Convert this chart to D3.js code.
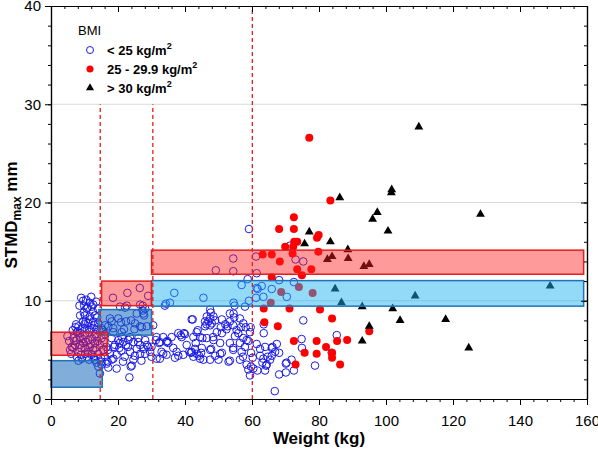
<!DOCTYPE html>
<html><head><meta charset="utf-8">
<script src="https://cdn.jsdelivr.net/npm/d3@7/dist/d3.min.js"></script>
<style>
html,body{margin:0;padding:0;background:#fff;}
svg{display:block;font-family:"Liberation Sans",Arial,sans-serif;}
</style></head>
<body><svg id="chart" width="598" height="454"></svg>
<script>
// ---------- DATA ----------
const xTicks = [0, 20, 40, 60, 80, 100, 120, 140, 160];
const yTicks = [0, 10, 20, 30, 40];
const legendLabels = ["< 25 kg/m", "25 - 29.9 kg/m", "> 30 kg/m"];
const legendTitle = "BMI";
const xLabel = "Weight (kg)";

// BMI < 25 kg/m2 : [weight, STMDmax]
const bmiUnder25 = [
[4.9,6.4],[6.7,6.2],[7.7,6.0],[7.2,5.5],[6.7,5.2],[8.2,4.8],[7.7,4.3],[9.2,4.1],[10.7,4.3],[12.1,4.5],[13.1,4.0],[15.1,3.8],[16.6,3.6],[14.1,3.3],[17.1,3.2],[15.6,5.0],[14.6,5.5],[13.1,5.7],[11.1,6.0],[9.6,5.7],[8.7,6.3],[10.1,6.5],[13.6,6.3],[15.1,6.2],[7.7,6.8],[8.7,6.7],[6.2,5.3],[5.7,5.0],[8.2,3.9],[14.1,4.6],[10.1,5.2],[11.6,5.3],[12.6,5.0],[8.7,5.5],[11.1,4.8],[16.1,4.3],[17.6,4.6],[18.1,4.0],[14.6,2.6],[15.1,3.5],
[9.6,10.0],[11.6,9.8],[12.6,9.6],[10.7,9.2],[10.1,8.5],[11.6,8.4],[13.1,8.5],[9.6,7.9],[11.1,7.7],[12.6,7.9],[14.1,7.7],[8.2,7.4],[9.2,7.1],[10.7,7.1],[12.1,7.2],[13.6,7.1],[14.6,6.8],
[9.0,10.3],[10.5,10.1],[12.0,10.4],[13.5,9.9],[8.5,9.5],[11.0,9.3],[14.0,9.2],[12.5,8.9],[9.8,8.8],[8.7,8.5],[11.5,8.1],[13.8,8.3],[7.5,7.6],[10.4,7.9],[12.9,7.5],[6.5,7.0],[8.0,6.9],[11.4,6.8],[9.5,6.1],[12.4,6.1],[10.5,5.8],[13.9,5.9],[7.0,5.9],[9.0,5.2],[11.9,5.6],[13.3,5.2],[15.9,5.8],[16.5,5.3],[10.2,4.6],[12.8,4.3],[8.9,4.5],[14.9,4.2],[11.4,4.0],[6.0,4.6],[13.6,3.7],[16.1,6.6],[7.3,7.3],[5.4,5.9],[9.9,9.5],[12.2,9.4],[10.0,7.6],[11.8,7.0],[13.2,6.6],[15.5,7.0],
[17.6,8.2],[20.1,8.2],[22.4,7.9],[21.8,7.1],[25.1,7.7],[26.6,7.4],[28.6,7.4],[27.6,8.7],[28.1,9.2],[26.6,9.6],[22.6,9.5],[20.6,9.4],[15.1,7.2],[16.1,7.5],[17.1,7.4],[18.6,7.2],[22.1,9.3],[27.4,9.5],[27.4,9.0],[27.8,8.5],[25.6,8.7],[23.9,8.0],[20.9,7.8],[21.1,6.8],[24.9,7.1],[27.1,7.3],[18.1,7.9],[18.6,6.8],
[21.1,6.3],[23.6,6.3],[26.1,6.2],[28.1,6.0],[28.6,5.5],[26.6,5.5],[18.1,6.2],[24.6,5.8],[23.1,6.0],[21.6,5.8],[20.1,6.0],[19.1,5.5],[20.4,5.2],[19.6,4.5],[18.6,4.1],[19.6,3.1],[23.8,3.3],[24.6,4.0],[23.4,2.2],[22.4,5.5],[23.6,4.8],[25.6,5.1],[27.6,5.1],[26.6,4.6],[28.1,4.6],[29.6,4.8],[24.1,3.4],[21.0,4.9],[22.0,4.3],[25.0,4.4],[27.0,3.9],[20.5,5.7],[23.0,5.3],[26.0,5.8],[29.0,5.3],[17.0,5.0],[18.8,5.3],[21.5,3.8],[16.9,3.8],
[22.8,10.8],[26.5,11.3],[29.0,10.5],[18.5,10.3],
[30.5,7.5],[31.5,6.3],[32.5,5.8],[33.5,6.3],[34.5,5.8],[33.5,4.6],[31.5,4.1],[34.5,4.5],[30.0,5.3],[30.0,4.3],[32.5,4.1],[31.3,6.0],[32.3,5.7],[34.7,5.9],[35.0,5.7],[38.0,6.7],[38.7,6.5],[37.5,4.8],[38.0,4.4],[33.0,4.8],[35.5,9.8],[34.0,9.5],[36.8,10.8],[34.3,9.7],
[39.0,6.3],[39.7,6.7],[41.3,4.8],[42.3,8.1],[40.5,5.5],[39.5,4.5],[36.5,5.2],[36.0,6.3],[37.0,4.2],
[59.1,17.3],[54.4,14.3],[61.2,14.5],[49.2,13.1],[54.4,13.0],[61.4,12.8],[58.7,12.2],[56.9,11.6],[61.7,11.2],[61.2,10.3],[62.9,11.5],[59.1,10.0],[45.5,10.3],[54.5,9.8],[54.8,9.5],[57.9,9.4],[47.5,9.1],[47.7,8.8],[54.5,8.7],[54.7,8.3],[42.0,8.1],[47.5,8.2],[46.0,7.9],[49.0,8.0],[51.0,8.1],[46.4,7.6],[48.0,7.7],[52.0,7.6],[52.7,7.4],[63.5,7.6],[63.5,6.7],[50.7,7.3],[52.4,7.1],[56.7,7.3],[58.1,7.3],[59.6,7.3],[40.0,6.6],[43.8,7.0],[45.2,6.2],[48.4,6.3],[54.9,6.4],[57.4,6.2],[58.9,5.9],[43.2,5.7],[45.0,5.2],[47.8,5.1],[61.4,5.6],[63.9,5.3],[66.1,5.3],[41.8,4.7],[43.0,5.1],[44.2,4.4],[44.8,4.7],[47.5,4.0],[49.0,4.4],[51.0,4.7],[54.4,5.0],[56.9,4.8],[57.3,4.3],[53.4,3.9],[59.7,4.7],[62.4,4.4],[63.1,3.7],[64.2,3.4],[64.7,4.3],[59.7,3.3],[60.4,3.1],[61.6,2.9],[59.4,2.4],[63.9,2.9],[66.8,0.8],
[43.5,6.8],[42.5,6.3],[44.5,6.3],[42.0,4.8],[43.5,4.6],[42.5,4.3],[44.5,4.1],[45.5,4.0],[46.5,8.4],[48.5,8.4],[47.0,7.9],[47.5,7.5],[46.0,7.4],[46.5,6.2],[48.5,6.0],[50.5,5.7],[49.5,6.8],[51.0,6.7],[47.5,5.0],[50.5,4.6],[50.0,4.0],[53.0,3.8],[53.4,7.9],[54.4,7.5],[55.4,7.0],[55.9,6.7],[53.4,8.7],[56.4,8.2],[53.4,5.7],[54.4,5.2],[56.4,5.7],[57.9,5.3],[58.4,6.0],[59.4,6.8],[57.4,7.7],[56.4,4.0],[58.4,3.5],[58.9,3.0],[64.4,3.5],[65.4,4.0],[63.4,4.1],[63.4,10.4],[61.4,11.3],[62.4,5.1],[60.2,4.2],
[71.3,15.6],[73.0,14.2],[75.3,14.0],[68.1,12.1],[72.5,11.9],[65.9,11.2],[70.4,10.4],[75.3,8.0],[85.3,6.5],[74.8,6.1],[74.9,5.2],[83.8,4.7],[67.4,5.6],[68.1,4.7],[65.9,5.2],[65.9,4.4],[70.1,3.6],[71.8,4.0],[72.5,2.9],[70.1,2.7],[68.1,2.5],[78.8,3.4],[66.9,4.8],[70.3,3.7]
];

// BMI 25 - 29.9 kg/m2
const bmi25to30 = [
[77.1,26.6],[83.4,20.2],[72.5,18.5],[68.1,17.3],[72.5,17.3],[79.4,16.4],[79.9,16.7],[72.6,16.0],[73.5,16.0],[69.9,15.5],[72.3,15.5],[79.8,15.0],[72.1,14.8],[63.2,14.7],[65.9,14.7],[68.3,14.0],[73.5,13.2],[77.7,13.2],[74.9,12.6],[65.9,12.4],[68.7,10.9],[74.0,11.4],[78.1,10.8],[65.6,9.8],[63.5,9.2],[71.2,9.2],[80.3,9.1],[83.9,8.2],[63.7,7.8],[67.7,7.4],[95.0,6.9],[72.5,5.9],[79.3,5.9],[85.4,5.9],[88.4,6.0],[82.1,5.3],[75.7,4.7],[79.3,4.6],[83.9,4.7],[83.9,4.2],[73.0,3.5],[86.3,3.5]
];

// BMI > 30 kg/m2
const bmiOver30 = [
[109.8,27.7],[101.6,21.0],[101.7,21.3],[97.4,19.0],[96.0,18.3],[100.6,17.1],[128.2,18.8],[93.4,13.5],[95.0,13.7],[149.0,11.5],[108.7,10.5],[92.9,9.4],[102.0,9.2],[86.2,20.5],[77.1,17.0],[75.7,15.8],[83.4,16.0],[88.6,15.2],[82.5,14.2],[83.9,14.5],[88.7,14.3],[84.8,11.2],[86.7,9.8],[104.2,8.0],[117.8,8.1],[95.0,7.4],[92.9,5.9],[124.7,5.2]
];

// Reference ranges: [x0, x1, y0, y1]
const blueRanges = [[0, 15.3, 1.2, 3.9], [14.3, 30, 6.5, 9.1]];
const redRanges = [[0, 16.8, 4.45, 6.8], [15.1, 30, 9.5, 12.0]];
const wideRed = [[30, 159, 12.7, 15.15]];
const wideBlue = [[30, 159, 9.45, 12.05]];
// dashed cut-offs: [x, yTop]
const cutoffs = [[14.7, 30], [30.4, 30], [60.1, 40]];

// ---------- CHART ----------
const svg = d3.select("#chart");
const L = 51, R = 587, T = 6, B = 399;
const x = d3.scaleLinear().domain([0, 160]).range([L, R]);
const y = d3.scaleLinear().domain([0, 40]).range([B, T]);

// grid
svg.append("g").selectAll("line").data([10, 20, 30]).join("line")
  .attr("x1", L).attr("x2", R).attr("y1", d => y(d)).attr("y2", d => y(d))
  .attr("stroke", "#d9d9d9").attr("stroke-width", 1);

const pts = svg.append("g");
pts.selectAll("circle.o").data(bmiUnder25).join("circle").attr("class", "o")
  .attr("cx", d => x(d[0])).attr("cy", d => y(d[1])).attr("r", 3.8)
  .attr("fill", "none").attr("stroke", "#1a1ae6").attr("stroke-width", 1);
pts.selectAll("circle.r").data(bmi25to30).join("circle").attr("class", "r")
  .attr("cx", d => x(d[0])).attr("cy", d => y(d[1])).attr("r", 4)
  .attr("fill", "#ff0000");
const tri = d3.symbol().type(d3.symbolTriangle).size(34);
pts.selectAll("path.t").data(bmiOver30).join("path").attr("class", "t")
  .attr("transform", d => `translate(${x(d[0])},${y(d[1])})`).attr("d", tri)
  .attr("fill", "#000");

// range boxes
function boxes(data, fill, stroke) {
  svg.append("g").selectAll("rect").data(data).join("rect")
    .attr("x", d => x(d[0])).attr("width", d => x(d[1]) - x(d[0]))
    .attr("y", d => y(d[3])).attr("height", d => y(d[2]) - y(d[3]))
    .attr("fill", fill).attr("stroke", stroke).attr("stroke-width", 1.5);
}
boxes(blueRanges, "rgba(25,105,190,0.55)", "#1f74b8");
boxes(wideBlue, "rgba(30,175,240,0.48)", "#1f74b8");
boxes(redRanges, "rgba(255,30,30,0.45)", "#e81c1c");
boxes(wideRed, "rgba(255,30,30,0.45)", "#e81c1c");

// cutoffs
svg.append("g").selectAll("line").data(cutoffs).join("line")
  .attr("x1", d => x(d[0])).attr("x2", d => x(d[0]))
  .attr("y1", y(0)).attr("y2", d => y(d[1]))
  .attr("stroke", "#e0201c").attr("stroke-width", 1.3).attr("stroke-dasharray", "4,3");

// axes
const fmt = d3.format("d");
const minorX = d3.range(0, 161, 4), minorY = d3.range(0, 41, 2);
function styleAxis(g) {
  g.selectAll("path.domain").attr("stroke", "#000").attr("stroke-width", 1.2);
  g.selectAll(".tick line").attr("stroke", "#000").attr("stroke-width", 1);
  g.selectAll("text").attr("font-size", 15).attr("fill", "#000")
    .attr("font-family", "'Liberation Sans',Arial,sans-serif");
}
svg.append("g").attr("transform", `translate(0,${B})`)
  .call(d3.axisBottom(x).tickValues(minorX).tickSize(3).tickFormat("").tickSizeOuter(0)).call(styleAxis);
svg.append("g").attr("transform", `translate(0,${B})`)
  .call(d3.axisBottom(x).tickValues(xTicks).tickSize(6).tickPadding(10).tickFormat(fmt).tickSizeOuter(0)).call(styleAxis);
svg.append("g").attr("transform", `translate(${L},0)`)
  .call(d3.axisLeft(y).tickValues(minorY).tickSize(3).tickFormat("").tickSizeOuter(0)).call(styleAxis);
svg.append("g").attr("transform", `translate(${L},0)`)
  .call(d3.axisLeft(y).tickValues(yTicks).tickSize(6).tickPadding(4).tickFormat(fmt).tickSizeOuter(0)).call(styleAxis);
// mirrored (inward) top & right
svg.append("g").attr("transform", `translate(0,${T})`)
  .call(d3.axisBottom(x).tickValues(minorX).tickSize(3).tickFormat("").tickSizeOuter(0)).call(styleAxis);
svg.append("g").attr("transform", `translate(0,${T})`)
  .call(d3.axisBottom(x).tickValues(xTicks).tickSize(6).tickFormat("").tickSizeOuter(0)).call(styleAxis);
svg.append("g").attr("transform", `translate(${R},0)`)
  .call(d3.axisLeft(y).tickValues(minorY).tickSize(3).tickFormat("").tickSizeOuter(0)).call(styleAxis);
svg.append("g").attr("transform", `translate(${R},0)`)
  .call(d3.axisLeft(y).tickValues(yTicks).tickSize(6).tickFormat("").tickSizeOuter(0)).call(styleAxis);

// axis titles
svg.append("text").attr("x", (L + R) / 2).attr("y", 444).attr("text-anchor", "middle")
  .attr("font-size", 17).attr("font-weight", "bold").text(xLabel);
const yl = svg.append("text").attr("transform", "translate(17,215) rotate(-90)")
  .attr("text-anchor", "middle").attr("font-size", 17).attr("font-weight", "bold");
yl.append("tspan").text("STMD");
yl.append("tspan").attr("font-size", 12).attr("dy", 4).text("max");
yl.append("tspan").attr("dy", -4).text(" mm");

// legend
const lg = svg.append("g");
lg.append("text").attr("x", 78).attr("y", 35).attr("font-size", 13).text(legendTitle);
const ly = [50, 69, 88];
lg.append("circle").attr("cx", 90).attr("cy", ly[0]).attr("r", 3.5)
  .attr("fill", "none").attr("stroke", "#1a1ae6").attr("stroke-width", 1);
lg.append("circle").attr("cx", 90).attr("cy", ly[1]).attr("r", 3.5).attr("fill", "#ff0000");
lg.append("path").attr("transform", `translate(90,${ly[2]})`)
  .attr("d", d3.symbol().type(d3.symbolTriangle).size(28)).attr("fill", "#000");
legendLabels.forEach((t, i) => {
  const tx = lg.append("text").attr("x", 107).attr("y", ly[i] + 4.5)
    .attr("font-size", 13).attr("font-weight", "bold");
  tx.append("tspan").text(t);
  tx.append("tspan").attr("font-size", 9).attr("dy", -6).text("2");
});
</script></body></html>
